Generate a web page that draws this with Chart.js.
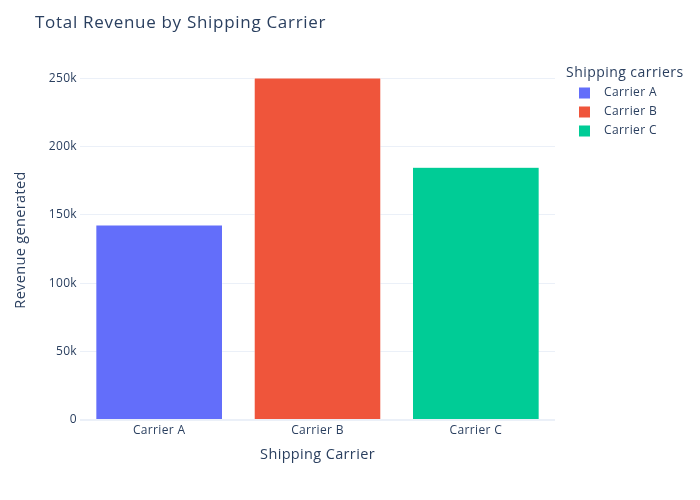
<!DOCTYPE html>
<html>
<head>
<meta charset="utf-8">
<script src="https://cdn.jsdelivr.net/npm/chart.js@4.4.1/dist/chart.umd.min.js"></script>
<style>
  html, body { margin: 0; padding: 0; background: #fff; }
  #wrap { width: 700px; height: 500px; position: relative; }
</style>
</head>
<body>
<div id="wrap"><canvas id="c" width="700" height="500"></canvas></div>
<script>
const categories = ['Carrier A', 'Carrier B', 'Carrier C'];
const revenue = [142629.99, 250094.65, 184880.18];
const colors = ['#636efa', '#EF553B', '#00cc96'];
const yTickValues = [0, 50000, 100000, 150000, 200000, 250000];
const chartTitle = 'Total Revenue by Shipping Carrier';
const legendTitle = 'Shipping carriers';
const xTitle = 'Shipping Carrier';
const yTitle = 'Revenue generated';

const FONT = '"Open Sans", verdana, arial, sans-serif';
const TXT = '#2a3f5f';
const GRID = '#EBF0F8';

const datasets = categories.map((cat, i) => ({
  label: cat,
  data: categories.map((c, j) => (j === i ? revenue[i] : null)),
  backgroundColor: colors[i],
  borderColor: '#ffffff',
  borderWidth: 0.5,
  grouped: false,
  categoryPercentage: 0.8,
  barPercentage: 1.0
}));

const overlay = {
  id: 'overlay',
  beforeDraw(chart) {
    chart.ctx.letterSpacing = '0.35px';
  },
  afterDraw(chart) {
    const ctx = chart.ctx;
    ctx.save();
    ctx.fillStyle = TXT;
    ctx.textBaseline = 'middle';
    ctx.textAlign = 'left';
    ctx.letterSpacing = '0.7px';
    ctx.font = '17px ' + FONT;
    ctx.fillText(chartTitle, 35, 23);
    ctx.letterSpacing = '0.45px';
    ctx.font = '14px ' + FONT;
    ctx.fillText(legendTitle, 566, 73);
    ctx.letterSpacing = '0.4px';
    ctx.font = '12px ' + FONT;
    chart.data.datasets.forEach((ds, i) => {
      const cy = 93 + i * 19;
      ctx.fillStyle = ds.backgroundColor;
      ctx.fillRect(579, cy - 5.5, 11, 11);
      ctx.fillStyle = TXT;
      ctx.fillText(ds.label, 604, cy);
    });
    ctx.restore();
  }
};

new Chart(document.getElementById('c'), {
  type: 'bar',
  data: { labels: categories, datasets },
  plugins: [overlay],
  options: {
    responsive: false,
    animation: false,
    layout: { padding: { top: 60, right: 145, bottom: 0, left: 0 } },
    plugins: { legend: { display: false }, title: { display: false }, tooltip: { enabled: false } },
    scales: {
      x: {
        afterFit(s) { s.height = 80; },
        grid: { display: false, drawTicks: false },
        border: { display: false },
        ticks: { color: TXT, font: { family: FONT, size: 12 }, padding: 3, maxRotation: 0 },
        title: { display: true, text: xTitle, color: TXT, font: { family: FONT, size: 14.5 }, padding: { top: 36, bottom: 36 } }
      },
      y: {
        min: 0,
        max: 263257,
        afterFit(s) { s.width = 80; },
        afterBuildTicks(s) { s.ticks = yTickValues.map(v => ({ value: v })); },
        grid: {
          color: GRID,
          lineWidth: (c) => (c.tick && c.tick.value === 0 ? 2 : 1),
          drawTicks: false,
          tickLength: 0
        },
        border: { display: false },
        ticks: {
          color: TXT,
          font: { family: FONT, size: 12 },
          padding: 3,
          callback: (v) => (v === 0 ? '0' : (v / 1000) + 'k')
        },
        title: { display: true, text: yTitle, color: TXT, font: { family: FONT, size: 14.5 }, padding: { top: 12, bottom: 0 } }
      }
    }
  }
});
</script>
</body>
</html>
